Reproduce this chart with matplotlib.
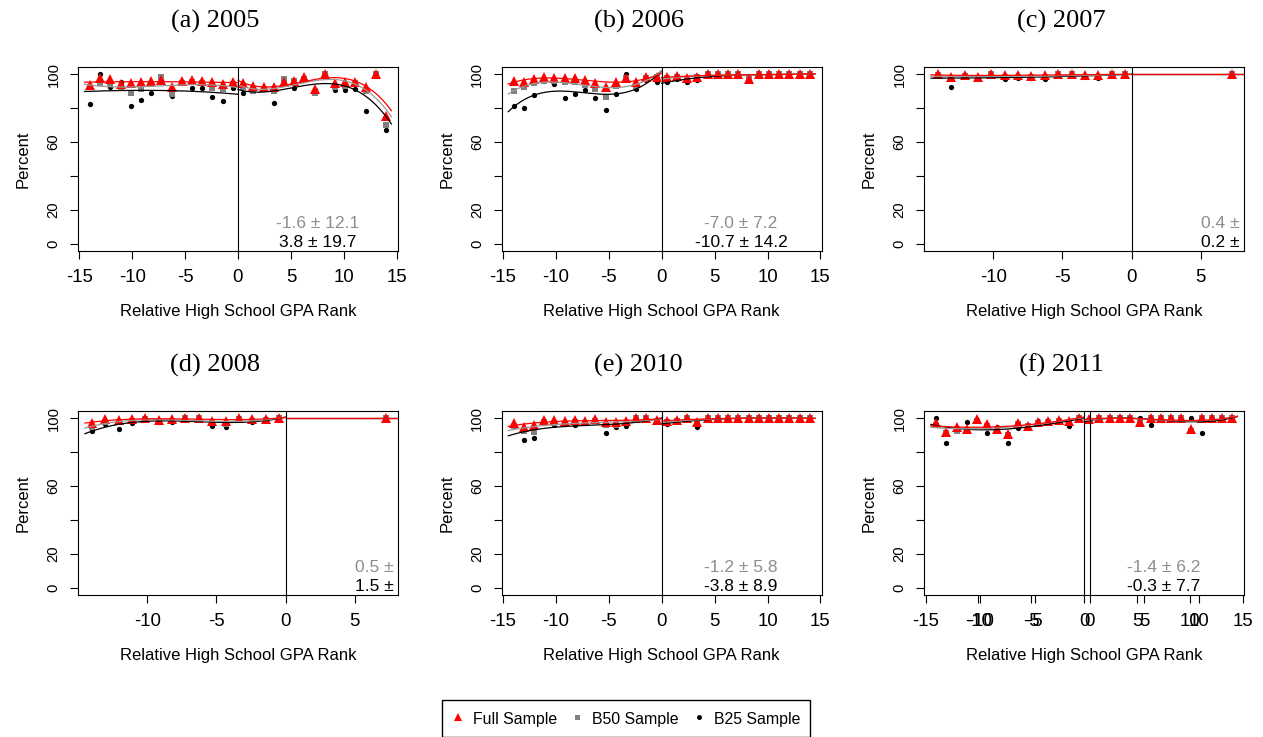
import numpy as np
import matplotlib
matplotlib.use("Agg")
import matplotlib.pyplot as plt
from matplotlib.lines import Line2D

plt.rcParams['font.family'] = ['Liberation Sans', 'DejaVu Sans']

# relative rank bins (30 bins, cutoff between -0.48 and 0.48)
rank = [-14.0, -13.03, -12.07, -11.1, -10.14, -9.17, -8.21, -7.24, -6.28, -5.31,
        -4.34, -3.38, -2.41, -1.45, -0.48, 0.48, 1.45, 2.41, 3.38, 4.34,
        5.31, 6.28, 7.24, 8.21, 9.17, 10.14, 11.1, 12.07, 13.03, 14.0]
rank_short = [-14.0, -13.03, -12.07, -11.1, -10.14, -9.17, -8.21, -7.24, -6.28, -5.31,
              -4.34, -3.38, -2.41, -1.45, -0.48, 7.24]

full_2005 = [93.5, 97.6, 97.1, 94.1, 94.7, 95.3, 95.9, 96.7, 92.7, 96.1, 96.7, 95.9, 95.3, 94.1, 95.3,
             94.5, 92.9, 92.4, 92.2, 95.3, 95.7, 98.6, 91.2, 100, 94.7, 95.5, 95.5, 92.7, 100, 75.1]
b50_2005 = [92.5, 94.5, 93.9, 92.4, 89.0, 91.2, 94.1, 98.2, 88.4, 94.7, 95.5, 94.7, 91.6, 91.4, 94.1,
            92.4, 90.2, 91.2, 90.0, 97.1, 95.7, 97.1, 88.8, 100, 92.7, 93.1, 94.7, 90.0, 100, 70.0]
b25_2005 = [82.5, 100, 92.4, 95.5, 81.0, 84.9, 89.0, 96.3, 86.9, 94.7, 91.6, 91.6, 86.7, 83.9, 91.6,
            89.0, 91.8, 91.2, 83.1, 94.7, 91.6, 96.7, 90.8, 100, 90.4, 90.4, 91.0, 78.0, 100, 66.9]

full_2006 = [95.7, 95.3, 97.3, 98.6, 98.0, 97.8, 97.5, 96.3, 94.9, 92.7, 95.5, 98.0, 95.5, 98.6, 98.2,
             98.4, 98.8, 97.8, 98.6, 100, 100, 100, 100, 97.3, 100, 100, 100, 100, 100, 100]
b50_2006 = [89.8, 92.5, 94.5, 96.1, 95.7, 95.3, 95.1, 93.7, 91.4, 86.3, 93.3, 97.6, 93.1, 97.6, 98.2,
            97.6, 98.6, 97.1, 98.2, 100, 100, 100, 100, 97.1, 100, 100, 100, 100, 100, 100]
b25_2006 = [81.4, 80.0, 87.6, 95.7, 94.3, 85.9, 88.2, 90.8, 85.9, 78.8, 88.2, 100, 91.0, 96.7, 95.3,
            95.5, 97.1, 95.3, 96.3, 100, 100, 100, 100, 96.7, 100, 100, 100, 100, 100, 100]

full_2007 = [100, 98.6, 99.4, 98.6, 100, 99.4, 99.4, 99.0, 99.4, 100, 100, 99.4, 99.4, 100, 100, 100]
b50_2007 = [99.6, 97.3, 99.0, 97.8, 99.8, 98.6, 98.6, 98.2, 98.6, 100, 100, 98.4, 98.2, 100, 100, 100]
b25_2007 = [100, 92.7, 99.6, 97.8, 100, 97.1, 97.8, 97.8, 97.1, 100, 100, 98.2, 97.8, 100, 100, 100]

full_2008 = [97.1, 99.4, 99.0, 99.2, 99.8, 99.0, 99.4, 100, 100, 98.6, 98.4, 99.8, 99.4, 99.4, 100, 100]
b50_2008 = [94.7, 98.0, 97.6, 98.6, 99.4, 98.0, 98.4, 100, 100, 96.9, 96.5, 99.4, 98.6, 98.8, 100, 100]
b25_2008 = [92.2, 96.7, 93.5, 96.9, 99.6, 98.0, 97.5, 100, 100, 95.5, 94.7, 100, 97.6, 98.2, 100, 100]

full_2010 = [97.1, 94.7, 95.7, 98.8, 98.8, 98.2, 99.0, 98.4, 99.2, 97.5, 97.8, 98.4, 99.8, 100, 98.8,
             98.6, 98.8, 100, 97.8, 100, 100, 100, 100, 100, 100, 100, 100, 100, 100, 100]
b50_2010 = [95.1, 92.5, 91.8, 98.0, 97.1, 96.5, 97.6, 97.3, 98.6, 95.7, 96.1, 97.3, 100, 100, 98.0,
            97.6, 98.4, 100, 96.5, 100, 100, 100, 100, 100, 100, 100, 100, 100, 100, 100]
b25_2010 = [95.1, 86.9, 88.2, 97.1, 95.7, 96.5, 96.1, 97.1, 98.4, 91.4, 94.7, 95.5, 100, 100, 98.4,
            96.5, 98.4, 100, 94.9, 100, 100, 100, 100, 100, 100, 100, 100, 100, 100, 100]

full_2011 = [97.1, 91.8, 94.5, 93.5, 99.2, 96.7, 93.5, 90.8, 97.1, 95.1, 97.5, 98.4, 99.0, 98.4, 100,
             99.4, 100, 100, 100, 100, 97.8, 100, 100, 100, 100, 93.7, 100, 100, 100, 100]
b50_2011 = [96.1, 91.2, 92.7, 93.1, 98.6, 95.5, 92.7, 90.2, 96.7, 95.5, 97.1, 98.0, 98.6, 98.0, 100,
            98.6, 100, 100, 100, 100, 97.1, 100, 100, 100, 100, 92.7, 100, 100, 100, 100]
b25_2011 = [100, 85.3, 94.0, 97.6, 99.0, 91.4, 95.0, 85.1, 94.3, 94.1, 98.6, 98.6, 98.0, 95.5, 100,
            98.2, 100, 100, 100, 100, 100, 95.9, 100, 100, 100, 100, 91.2, 100, 100, 100]

titles = ['(a) 2005', '(b) 2006', '(c) 2007', '(d) 2008', '(e) 2010', '(f) 2011']
est_b50 = ['-1.6 \u00b1 12.1', '-7.0 \u00b1 7.2', '0.4 \u00b1', '0.5 \u00b1', '-1.2 \u00b1 5.8', '-1.4 \u00b1 6.2']
est_b25 = ['3.8 \u00b1 19.7', '-10.7 \u00b1 14.2', '0.2 \u00b1', '1.5 \u00b1', '-3.8 \u00b1 8.9', '-0.3 \u00b1 7.7']

panels = [
    (rank, full_2005, b50_2005, b25_2005),
    (rank, full_2006, b50_2006, b25_2006),
    (rank_short, full_2007, b50_2007, b25_2007),
    (rank_short, full_2008, b50_2008, b25_2008),
    (rank, full_2010, b50_2010, b25_2010),
    (rank, full_2011, b50_2011, b25_2011),
]
xlims = [(-15.12, 15.12), (-15.12, 15.12), (-15.0, 8.12),
         (-15.0, 8.12), (-15.12, 15.12), (-15.15, 15.12)]

RED, GRAY, GRAYLINE, GRAYTXT = '#FF0000', '#808080', '#9A9A9A', '#8E8E8E'
W, H = 1263, 737

fig = plt.figure(figsize=(W / 100, H / 100), dpi=100)

col_left = [78, 501.7, 924]
row_bottom = [251, 595]
box_w, box_h = 320, 184


def style_axis(ax, xticks, labelled_y=True):
    ax.set_xticks(xticks)
    ax.set_xticklabels([str(t) for t in xticks], fontsize=13.4)
    ax.tick_params(axis='x', direction='out', length=5.5, width=0.8, pad=7.5)
    if labelled_y:
        ax.set_yticks([0, 20, 40, 60, 80, 100])
        ax.set_yticklabels(['0', '20', '', '60', '', '100'], rotation=90,
                           va='center', fontsize=10.7)
        ax.tick_params(axis='y', direction='out', length=5.5, width=0.8, pad=7)


def fit_lines(ax, xs, ys, color):
    xs = np.asarray(xs)
    ys = np.asarray(ys)
    for side, lo, hi in ((xs < 0, -14.5, 0.0), (xs > 0, 0.0, 14.5)):
        sx, sy = xs[side], ys[side]
        deg = min(3, len(sx) - 1)
        coef = np.polyfit(sx, sy, deg)
        gx = np.linspace(lo, hi, 150)
        ax.plot(gx, np.polyval(coef, gx), color=color, lw=0.9, zorder=4)


for k, (xs, full, b50, b25) in enumerate(panels):
    r, c = divmod(k, 3)
    left = col_left[c] / W
    bottom = 1 - row_bottom[r] / H
    ax = fig.add_axes([left, bottom, box_w / W, box_h / H])
    xlo, xhi = xlims[k]
    ax.set_xlim(xlo, xhi)
    ax.set_ylim(-4.2, 104.2)

    ax.plot(xs, b25, 'o', color='black', ms=3.8, mew=0, zorder=2)
    ax.plot(xs, b50, 's', color=GRAY, ms=4.8, mew=0, zorder=2)
    ax.plot(xs, full, '^', color=RED, ms=7.0, mew=0, zorder=3)

    fit_lines(ax, xs, b25, 'black')
    fit_lines(ax, xs, b50, GRAYLINE)
    fit_lines(ax, xs, full, RED)
    ax.axvline(0, color='black', lw=0.8, zorder=5)

    if xhi > 10:
        ticks = [-15, -10, -5, 0, 5, 10, 15]
        ax.text(7.5, 12, est_b50[k], color=GRAYTXT, fontsize=12.5, ha='center', va='center')
        ax.text(7.5, 1, est_b25[k], color='black', fontsize=12.5, ha='center', va='center')
    else:
        ticks = [-10, -5, 0, 5]
        ax.text(7.82, 12, est_b50[k], color=GRAYTXT, fontsize=12.5, ha='right', va='center')
        ax.text(7.82, 1, est_b25[k], color='black', fontsize=12.5, ha='right', va='center')
    style_axis(ax, ticks)

    for s in ax.spines.values():
        s.set_linewidth(0.8)
    ax.set_ylabel('Percent', fontsize=12)
    ax.yaxis.set_label_coords(-47.5 / box_w, 0.5)
    ax.set_xlabel('Relative High School GPA Rank', fontsize=12)
    ax.xaxis.set_label_coords(0.5, -53 / box_h)
    ax.text(0.5 - 23 / box_w, 1 + 46 / box_h, titles[k], transform=ax.transAxes,
            ha='center', va='center', fontsize=19, family='Liberation Serif')

    if k == 5:
        # second overlaid plot with a slightly different x range
        ax2 = fig.add_axes([left, bottom, box_w / W, box_h / H])
        ax2.set_xlim(-15.16, 14.15)
        ax2.set_ylim(-4.2, 104.2)
        ax2.patch.set_visible(False)
        for s in ax2.spines.values():
            s.set_visible(False)
        ax2.set_yticks([])
        ax2.axvline(0, color='black', lw=0.8, zorder=5)
        style_axis(ax2, [-10, -5, 0, 5, 10], labelled_y=False)

handles = [
    Line2D([], [], ls='none', marker='^', color=RED, ms=5.6, mew=0),
    Line2D([], [], ls='none', marker='s', color=GRAY, ms=3.6, mew=0),
    Line2D([], [], ls='none', marker='o', color='black', ms=3.6, mew=0),
]
leg = fig.legend(handles, ['Full Sample', 'B50 Sample', 'B25 Sample'],
                 loc='upper center', bbox_to_anchor=(625.9 / W, 1 - 700 / H),
                 ncol=3, frameon=True, fancybox=False, edgecolor='black',
                 fontsize=11.4, handlelength=0.8, handleheight=1.4, handletextpad=0.55,
                 columnspacing=0.86, borderpad=0.6, borderaxespad=0)
leg.get_frame().set_linewidth(1.0)
leg.get_frame().set_alpha(1)

fig.savefig('out.png', dpi=100)
